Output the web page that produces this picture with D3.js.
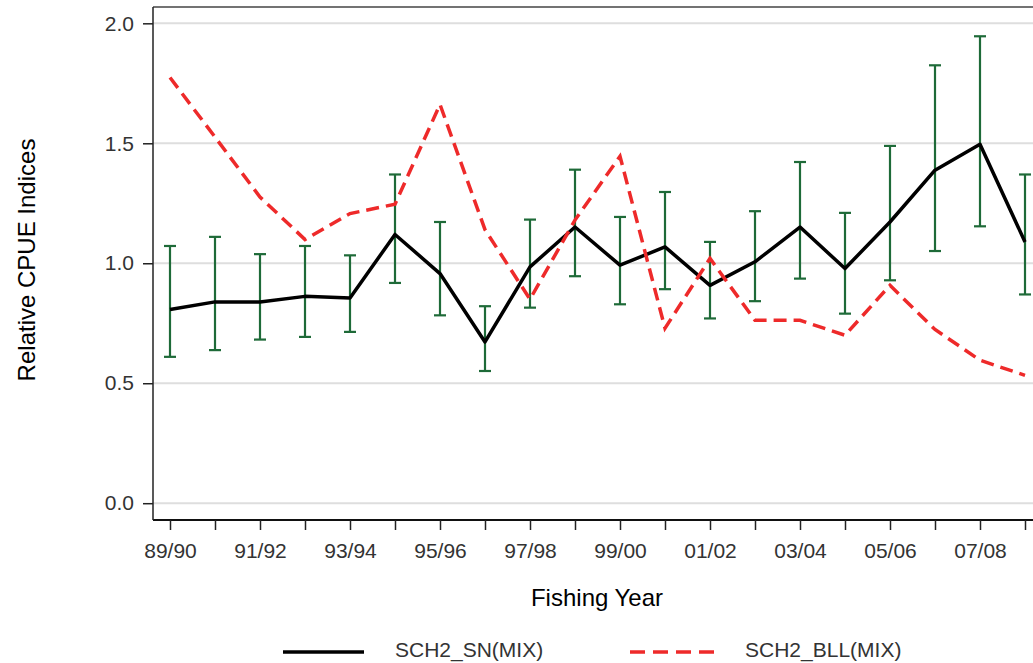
<!DOCTYPE html>
<html>
<head>
<meta charset="utf-8">
<script src="https://cdn.jsdelivr.net/npm/d3@7"></script>
<style>
  body { margin: 0; background: #fff; }
  svg { display: block; font-family: "Liberation Sans", Arial, sans-serif; }
</style>
</head>
<body>
<svg id="chart" width="1033" height="663"></svg>
<script>
// fishing years on the x axis
var years = ["89/90","90/91","91/92","92/93","93/94","94/95","95/96","96/97","97/98","98/99",
             "99/00","00/01","01/02","02/03","03/04","04/05","05/06","06/07","07/08","08/09"];
var tickLabels = ["89/90","91/92","93/94","95/96","97/98","99/00","01/02","03/04","05/06","07/08"];
var yTicks = [0, 0.5, 1.0, 1.5, 2.0];

// SCH2_SN(MIX) index with confidence bounds
var snIndex = [0.807,0.839,0.839,0.862,0.855,1.12,0.957,0.672,0.985,1.151,
               0.992,1.068,0.908,1.006,1.151,0.978,1.172,1.388,1.496,1.089];
var snUpper = [1.072,1.11,1.038,1.072,1.033,1.37,1.172,0.821,1.182,1.39,
               1.193,1.297,1.089,1.217,1.422,1.21,1.489,1.825,1.946,1.37];
var snLower = [0.61,0.638,0.682,0.693,0.714,0.918,0.783,0.551,0.815,0.946,
               0.829,0.892,0.77,0.842,0.936,0.79,0.929,1.051,1.154,0.87];

// SCH2_BLL(MIX) index
var bllIndex = [1.774,1.526,1.276,1.099,1.207,1.246,1.662,1.14,0.85,1.18,
                1.446,0.729,1.02,0.762,0.762,0.70,0.908,0.724,0.596,0.533];

var svg = d3.select("#chart");

var plotLeft = 153, plotRight = 1042, plotTop = 7, plotBottom = 520;

var x = d3.scalePoint()
    .domain(years)
    .range([170, 1025]);

var y = d3.scaleLinear()
    .domain([-0.07, 2.068])
    .range([plotBottom, plotTop]);

// gridlines
svg.append("g")
    .selectAll("line")
    .data(yTicks)
    .enter()
    .append("line")
    .attr("x1", plotLeft)
    .attr("x2", plotRight)
    .attr("y1", d => y(d))
    .attr("y2", d => y(d))
    .attr("stroke", "#dedede")
    .attr("stroke-width", 2);

// frame top
svg.append("line")
    .attr("x1", plotLeft).attr("x2", plotRight)
    .attr("y1", plotTop).attr("y2", plotTop)
    .attr("stroke", "#444").attr("stroke-width", 1.5);

// x axis
var xAxis = svg.append("g")
    .attr("transform", "translate(0," + plotBottom + ")")
    .call(d3.axisBottom(x)
        .tickSize(10)
        .tickSizeOuter(0)
        .tickFormat(d => tickLabels.includes(d) ? d : ""));
xAxis.select(".domain")
    .attr("d", "M" + plotLeft + ",0H" + plotRight)
    .attr("stroke", "#111")
    .attr("stroke-width", 2);
xAxis.selectAll(".tick line").attr("stroke", "#222").attr("stroke-width", 1.5);
xAxis.selectAll(".tick text")
    .attr("y", 23)
    .attr("dy", "0.71em")
    .attr("font-size", 21)
    .attr("font-family", "Liberation Sans, Arial, sans-serif")
    .attr("fill", "#333");

// y axis
var yAxis = svg.append("g")
    .attr("transform", "translate(" + plotLeft + ",0)")
    .call(d3.axisLeft(y)
        .tickValues(yTicks)
        .tickSize(10)
        .tickSizeOuter(0)
        .tickFormat(d3.format(".1f")));
yAxis.select(".domain")
    .attr("d", "M0," + plotTop + "V" + plotBottom)
    .attr("stroke", "#222")
    .attr("stroke-width", 1.5);
yAxis.selectAll(".tick line").attr("stroke", "#222").attr("stroke-width", 1.5);
yAxis.selectAll(".tick text")
    .attr("x", -19)
    .attr("font-size", 21)
    .attr("font-family", "Liberation Sans, Arial, sans-serif")
    .attr("fill", "#333");

// error bars
var bars = svg.append("g")
    .attr("stroke", "#1e6a38")
    .attr("stroke-width", 2.2);
years.forEach(function(yr, i){
    var cx = x(yr);
    bars.append("line")
        .attr("x1", cx).attr("x2", cx)
        .attr("y1", y(snUpper[i])).attr("y2", y(snLower[i]));
    bars.append("line")
        .attr("x1", cx - 6).attr("x2", cx + 6)
        .attr("y1", y(snUpper[i])).attr("y2", y(snUpper[i]));
    bars.append("line")
        .attr("x1", cx - 6).attr("x2", cx + 6)
        .attr("y1", y(snLower[i])).attr("y2", y(snLower[i]));
});

var line = d3.line()
    .x((d, i) => x(years[i]))
    .y(d => y(d));

svg.append("path")
    .datum(snIndex)
    .attr("d", line)
    .attr("fill", "none")
    .attr("stroke", "#000")
    .attr("stroke-width", 3.5)
    .attr("stroke-linejoin", "round");

svg.append("path")
    .datum(bllIndex)
    .attr("d", line)
    .attr("fill", "none")
    .attr("stroke", "#ee2a2a")
    .attr("stroke-width", 3.5)
    .attr("stroke-dasharray", "13,7");

// axis titles
svg.append("text")
    .attr("x", 597)
    .attr("y", 606)
    .attr("text-anchor", "middle")
    .attr("font-size", 24)
    .attr("fill", "#000")
    .text("Fishing Year");

svg.append("text")
    .attr("transform", "translate(35,260) rotate(-90)")
    .attr("text-anchor", "middle")
    .attr("font-size", 24)
    .attr("fill", "#000")
    .text("Relative CPUE Indices");

// legend
var legend = [
    {name: "SCH2_SN(MIX)", x1: 283, x2: 364, tx: 395, color: "#000", dash: null},
    {name: "SCH2_BLL(MIX)", x1: 630, x2: 714, tx: 745, color: "#ee2a2a", dash: "15,8"}
];
legend.forEach(function(l){
    svg.append("line")
        .attr("x1", l.x1).attr("x2", l.x2)
        .attr("y1", 652).attr("y2", 652)
        .attr("stroke", l.color)
        .attr("stroke-width", 3.5)
        .attr("stroke-dasharray", l.dash);
    svg.append("text")
        .attr("x", l.tx)
        .attr("y", 657)
        .attr("font-size", 21)
        .attr("fill", "#333")
        .text(l.name);
});
</script>
</body>
</html>
